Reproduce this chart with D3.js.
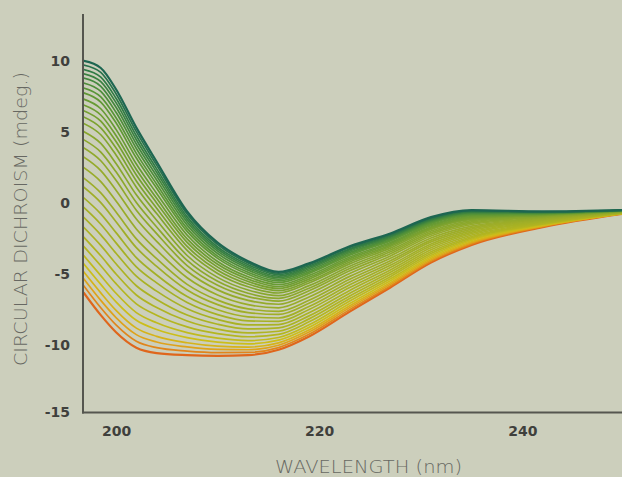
<!DOCTYPE html>
<html>
<head>
<meta charset="utf-8">
<script src="https://cdn.jsdelivr.net/npm/d3@7"></script>
<style>
  html, body { margin: 0; padding: 0; background: #cccfbc; }
  svg { display: block; }
</style>
</head>
<body>
<svg id="chart" width="622" height="477"></svg>
<script>
// Wavelengths (nm) at which each spectrum was read
const wavelengths = [196.8, 198.5, 200, 202, 204, 207, 210, 213, 216, 219, 223, 227, 231, 235, 242, 250];

// CD spectra (mdeg.), top (green) to bottom (orange)
const spectra = [
  [10.0, 9.5, 8.0, 5.3, 2.9, -0.6, -2.8, -4.1, -4.85, -4.25, -3.05, -2.15, -1.0, -0.5, -0.6, -0.5],
  [9.71, 9.19, 7.69, 5.02, 2.66, -0.78, -2.94, -4.22, -4.95, -4.34, -3.13, -2.22, -1.06, -0.54, -0.62, -0.5],
  [9.4, 8.86, 7.37, 4.73, 2.4, -0.98, -3.1, -4.35, -5.05, -4.44, -3.22, -2.29, -1.12, -0.59, -0.64, -0.51],
  [9.1, 8.54, 7.06, 4.45, 2.16, -1.16, -3.24, -4.47, -5.15, -4.53, -3.3, -2.36, -1.18, -0.63, -0.66, -0.51],
  [8.79, 8.21, 6.73, 4.15, 1.9, -1.35, -3.39, -4.59, -5.26, -4.63, -3.39, -2.43, -1.24, -0.68, -0.68, -0.52],
  [8.45, 7.85, 6.38, 3.83, 1.62, -1.56, -3.56, -4.73, -5.37, -4.74, -3.49, -2.51, -1.3, -0.73, -0.7, -0.52],
  [8.09, 7.46, 6.0, 3.49, 1.32, -1.79, -3.74, -4.88, -5.49, -4.85, -3.59, -2.59, -1.37, -0.79, -0.73, -0.53],
  [7.75, 7.1, 5.64, 3.16, 1.04, -2.0, -3.9, -5.02, -5.61, -4.96, -3.68, -2.67, -1.44, -0.84, -0.75, -0.53],
  [7.31, 6.63, 5.18, 2.74, 0.67, -2.27, -4.12, -5.2, -5.76, -5.1, -3.81, -2.78, -1.53, -0.9, -0.78, -0.54],
  [6.9, 6.19, 4.75, 2.35, 0.33, -2.53, -4.32, -5.36, -5.9, -5.23, -3.92, -2.87, -1.61, -0.97, -0.81, -0.55],
  [6.5, 5.76, 4.32, 1.97, 0.0, -2.78, -4.52, -5.53, -6.03, -5.36, -4.04, -2.97, -1.69, -1.03, -0.84, -0.55],
  [6.06, 5.29, 3.86, 1.55, -0.37, -3.06, -4.74, -5.71, -6.18, -5.5, -4.16, -3.07, -1.77, -1.09, -0.87, -0.56],
  [5.6, 4.8, 3.38, 1.11, -0.75, -3.34, -4.96, -5.9, -6.34, -5.64, -4.29, -3.18, -1.86, -1.16, -0.9, -0.57],
  [5.03, 4.19, 2.78, 0.57, -1.22, -3.7, -5.24, -6.13, -6.53, -5.82, -4.45, -3.31, -1.98, -1.25, -0.94, -0.58],
  [4.46, 3.58, 2.19, 0.03, -1.69, -4.05, -5.52, -6.36, -6.72, -6.0, -4.61, -3.44, -2.09, -1.33, -0.97, -0.59],
  [3.89, 2.97, 1.59, -0.51, -2.16, -4.41, -5.8, -6.59, -6.91, -6.18, -4.78, -3.58, -2.2, -1.42, -1.01, -0.59],
  [3.24, 2.28, 0.9, -1.13, -2.7, -4.81, -6.12, -6.86, -7.13, -6.39, -4.96, -3.73, -2.33, -1.52, -1.06, -0.6],
  [2.5, 1.5, 0.13, -1.83, -3.31, -5.27, -6.48, -7.16, -7.38, -6.62, -5.17, -3.9, -2.47, -1.63, -1.11, -0.62],
  [1.77, 0.71, -0.64, -2.53, -3.92, -5.73, -6.84, -7.46, -7.63, -6.85, -5.37, -4.07, -2.62, -1.74, -1.16, -0.63],
  [1.12, 0.02, -1.32, -3.15, -4.46, -6.13, -7.16, -7.72, -7.85, -7.06, -5.56, -4.22, -2.74, -1.84, -1.2, -0.64],
  [0.38, -0.77, -2.09, -3.85, -5.07, -6.59, -7.52, -8.02, -8.1, -7.29, -5.76, -4.39, -2.89, -1.95, -1.25, -0.65],
  [-0.3, -1.5, -2.81, -4.5, -5.63, -7.01, -7.86, -8.3, -8.33, -7.5, -5.96, -4.55, -3.02, -2.05, -1.3, -0.66],
  [-1.0, -2.25, -3.54, -5.16, -6.21, -7.45, -8.2, -8.59, -8.56, -7.73, -6.16, -4.72, -3.16, -2.15, -1.34, -0.67],
  [-1.7, -2.99, -4.28, -5.83, -6.79, -7.89, -8.54, -8.87, -8.8, -7.95, -6.35, -4.88, -3.3, -2.26, -1.39, -0.68],
  [-2.39, -3.72, -5.0, -6.48, -7.36, -8.31, -8.88, -9.15, -9.03, -8.16, -6.55, -5.04, -3.43, -2.36, -1.44, -0.69],
  [-3.04, -4.42, -5.68, -7.1, -7.9, -8.72, -9.2, -9.42, -9.25, -8.37, -6.73, -5.19, -3.56, -2.46, -1.48, -0.7],
  [-3.69, -5.12, -6.36, -7.72, -8.44, -9.13, -9.52, -9.69, -9.47, -8.58, -6.91, -5.34, -3.69, -2.56, -1.52, -0.71],
  [-4.26, -5.73, -6.96, -8.26, -8.91, -9.48, -9.8, -9.92, -9.66, -8.76, -7.08, -5.48, -3.8, -2.64, -1.56, -0.72],
  [-4.83, -6.33, -7.56, -8.81, -9.39, -9.84, -10.08, -10.15, -9.85, -8.94, -7.24, -5.61, -3.91, -2.73, -1.6, -0.73],
  [-5.32, -6.86, -8.07, -9.27, -9.79, -10.14, -10.32, -10.35, -10.02, -9.09, -7.37, -5.72, -4.01, -2.8, -1.63, -0.74],
  [-5.81, -7.38, -8.59, -9.74, -10.2, -10.45, -10.56, -10.55, -10.19, -9.25, -7.51, -5.84, -4.1, -2.88, -1.67, -0.74],
  [-6.3, -7.9, -9.1, -10.2, -10.6, -10.75, -10.8, -10.75, -10.35, -9.4, -7.65, -5.95, -4.2, -2.95, -1.7, -0.75]
];

// Tick values
const xTicks = [200, 220, 240];
const yTicks = [10, 5, 0, -5, -10, -15];

// Colour ramp (top -> bottom)
const colourStops = [0, 0.06, 0.2, 0.4, 0.6, 0.8, 0.88, 0.94, 1];
const colourValues = ["#1d6651", "#2f7a45", "#5a9636", "#86a62d", "#9fae28", "#b2b521", "#cfbf18", "#e0a01a", "#df661c"];

const svg = d3.select("#chart");
const W = 622, H = 477;

svg.append("rect").attr("width", W).attr("height", H).attr("fill", "#cccfbc");

const x = d3.scaleLinear().domain([196.75, 249.8]).range([83, 622]);
const y = d3.scaleLinear().domain([-15, -10, 13.3]).range([412.5, 345, 14]);

const colour = d3.scaleLinear().domain(colourStops).range(colourValues).interpolate(d3.interpolateRgb);

const line = d3.line()
  .x((d, i) => x(wavelengths[i]))
  .y(d => y(d))
  .curve(d3.curveMonotoneX);

svg.append("clipPath").attr("id", "plotClip")
  .append("rect").attr("x", 84).attr("y", 0).attr("width", W - 84).attr("height", 412);

const n = spectra.length;
const g = svg.append("g").attr("clip-path", "url(#plotClip)");
g.selectAll("path.spec")
  .data(spectra.map((s, i) => ({ s, i })).reverse())
  .join("path")
  .attr("class", "spec")
  .attr("d", d => line(d.s))
  .attr("fill", "none")
  .attr("stroke", d => colour(d.i / (n - 1)))
  .attr("stroke-width", d => (d.i === 0 || d.i === n - 1) ? 2.2 : 1.7)
  .attr("stroke-linejoin", "round");

// Axes
const xAxis = d3.axisBottom(x).tickValues(xTicks).tickSize(0).tickPadding(14).tickFormat(d3.format("d"));
const yAxis = d3.axisLeft(y).tickValues(yTicks).tickSize(0).tickPadding(13).tickFormat(d => d < 0 ? "-" + Math.abs(d) : d);

const gx = svg.append("g").attr("transform", "translate(0,412.5)").call(xAxis);
const gy = svg.append("g").attr("transform", "translate(83,0)").call(yAxis);

[gx, gy].forEach(ax => {
  ax.select(".domain").remove();
  ax.selectAll("text")
    .attr("font-family", "'DejaVu Sans', sans-serif")
    .attr("font-size", 14)
    .attr("font-weight", 600)
    .attr("fill", "#3f403c");
});

// axis lines
svg.append("line").attr("x1", 83).attr("x2", 83).attr("y1", 14).attr("y2", 413.5)
  .attr("stroke", "#55564f").attr("stroke-width", 2);
svg.append("line").attr("x1", 82).attr("x2", 622).attr("y1", 412.5).attr("y2", 412.5)
  .attr("stroke", "#55564f").attr("stroke-width", 2);

// Axis titles
svg.append("text")
  .attr("x", 275).attr("y", 473)
  .attr("font-family", "'DejaVu Sans', sans-serif")
  .attr("font-size", 17)
  .attr("font-weight", 300)
  .attr("fill", "#676862")
  .attr("textLength", 187)
  .attr("lengthAdjust", "spacingAndGlyphs")
  .text("WAVELENGTH (nm)");

svg.append("text")
  .attr("transform", "translate(26.5,366) rotate(-90)")
  .attr("x", 0).attr("y", 0)
  .attr("font-family", "'DejaVu Sans', sans-serif")
  .attr("font-size", 17.5)
  .attr("font-weight", 300)
  .attr("fill", "#676862")
  .attr("textLength", 294)
  .attr("lengthAdjust", "spacingAndGlyphs")
  .text("CIRCULAR DICHROISM (mdeg.)");
</script>
</body>
</html>
